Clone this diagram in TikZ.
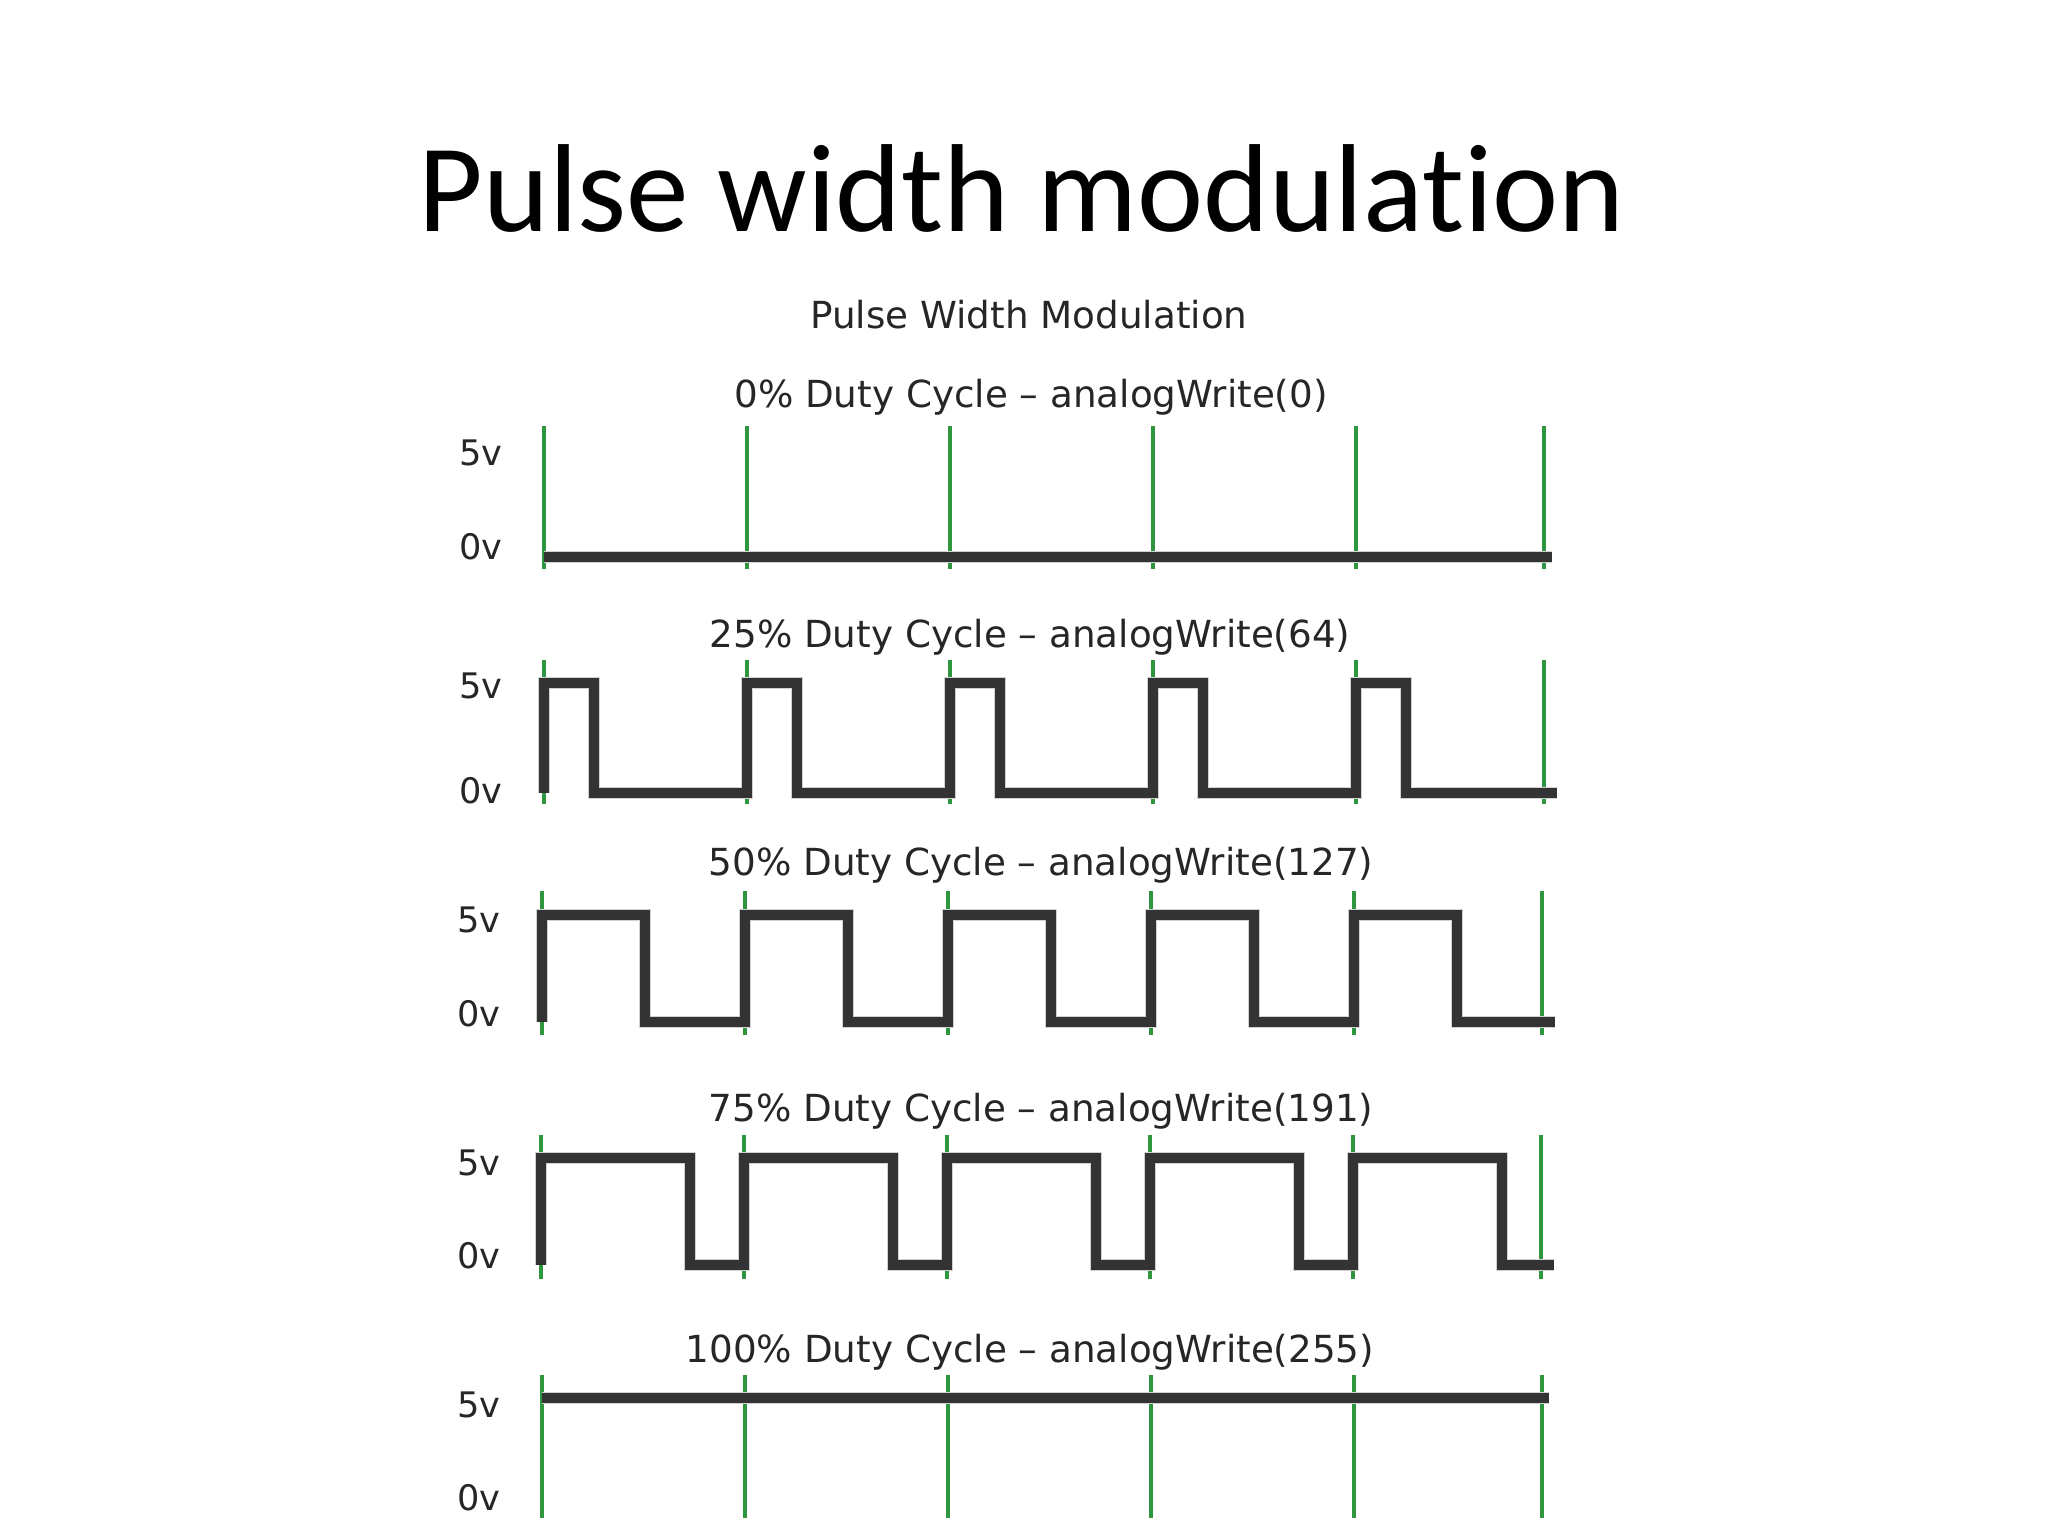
\documentclass[tikz,border=0pt]{standalone}
\usepackage{fontspec}
\setmainfont{DejaVu Sans}
\newfontfamily\slidefont[Ligatures=NoCommon]{Carlito}
\definecolor{TickGreen}{RGB}{46,150,62}
\definecolor{WaveGray}{RGB}{51,51,51}

\begin{document}
\begin{tikzpicture}[x=0.01cm, y=-0.01cm,
    tick/.style={TickGreen, line width=1pt},
    wave/.style={preaction={draw=gray!35, line width=3.5pt}, draw=WaveGray, line width=2.7pt, line join=miter},
    paneltitle/.style={anchor=base, inner sep=0pt, text=black!85, font=\fontsize{10.6}{12}\selectfont},
    level/.style={anchor=base east, inner sep=0pt, text=black!85, font=\fontsize{10}{12}\selectfont}]
    \fill[white] (0,0) rectangle (2048,1536);
    \useasboundingbox (0,0) rectangle (2048,1536);

    \node[anchor=base, inner sep=0pt, font=\slidefont\fontsize{35.6}{40}\selectfont] (title) at (1022,231) {Pulse width modulation};
    \node[paneltitle] (subtitle) at (1029,328) {Pulse Width Modulation};

    % 0% duty cycle
    \foreach \gx in {0,203,406,609,812,1000}
        \draw[tick] ({544+\gx},426) -- ({544+\gx},569);
    \draw[wave] (544,557) -- (1552,557);
    \node[paneltitle] (duty0) at (1031,407) {0\% Duty Cycle -- analogWrite(0)};
    \node[level] (hi0) at (503,465) {5v};
    \node[level] (lo0) at (503,559) {0v};

    % 25%, 50%, 75% duty cycle
    \foreach \n/\xo/\tp/\hi/\lo/\w in {25/544/660/683/793/50, 50/542/891/915/1022/103, 75/541/1135/1158/1265/149} {
        \foreach \gx in {0,203,406,609,812,1000}
            \draw[tick] ({\xo+\gx},\tp) -- ({\xo+\gx},\tp+144);
        \draw[wave] (\xo,\lo) \foreach \k in {0,...,4} {
            -- ({\xo+\k*203},\hi) -- ({\xo+\k*203+\w},\hi) -- ({\xo+\k*203+\w},\lo)
            -- ({min(\xo+\k*203+203,\xo+1013)},\lo)};
    }
    \node[paneltitle] (duty25) at (1030,647) {25\% Duty Cycle -- analogWrite(64)};
    \node[level] (hi25) at (503,698) {5v};
    \node[level] (lo25) at (503,803) {0v};
    \node[paneltitle] (duty50) at (1041,875) {50\% Duty Cycle -- analogWrite(127)};
    \node[level] (hi50) at (501,932) {5v};
    \node[level] (lo50) at (501,1026) {0v};
    \node[paneltitle] (duty75) at (1041,1121) {75\% Duty Cycle -- analogWrite(191)};
    \node[level] (hi75) at (501,1175) {5v};
    \node[level] (lo75) at (501,1268) {0v};

    % 100% duty cycle
    \foreach \gx in {0,203,406,609,812,1000}
        \draw[tick] ({542+\gx},1375) -- ({542+\gx},1518);
    \draw[wave] (542,1398) -- (1549,1398);
    \node[paneltitle] (duty100) at (1030,1362) {100\% Duty Cycle -- analogWrite(255)};
    \node[level] (hi100) at (501,1417) {5v};
    \node[level] (lo100) at (501,1510) {0v};
\end{tikzpicture}
\end{document}
